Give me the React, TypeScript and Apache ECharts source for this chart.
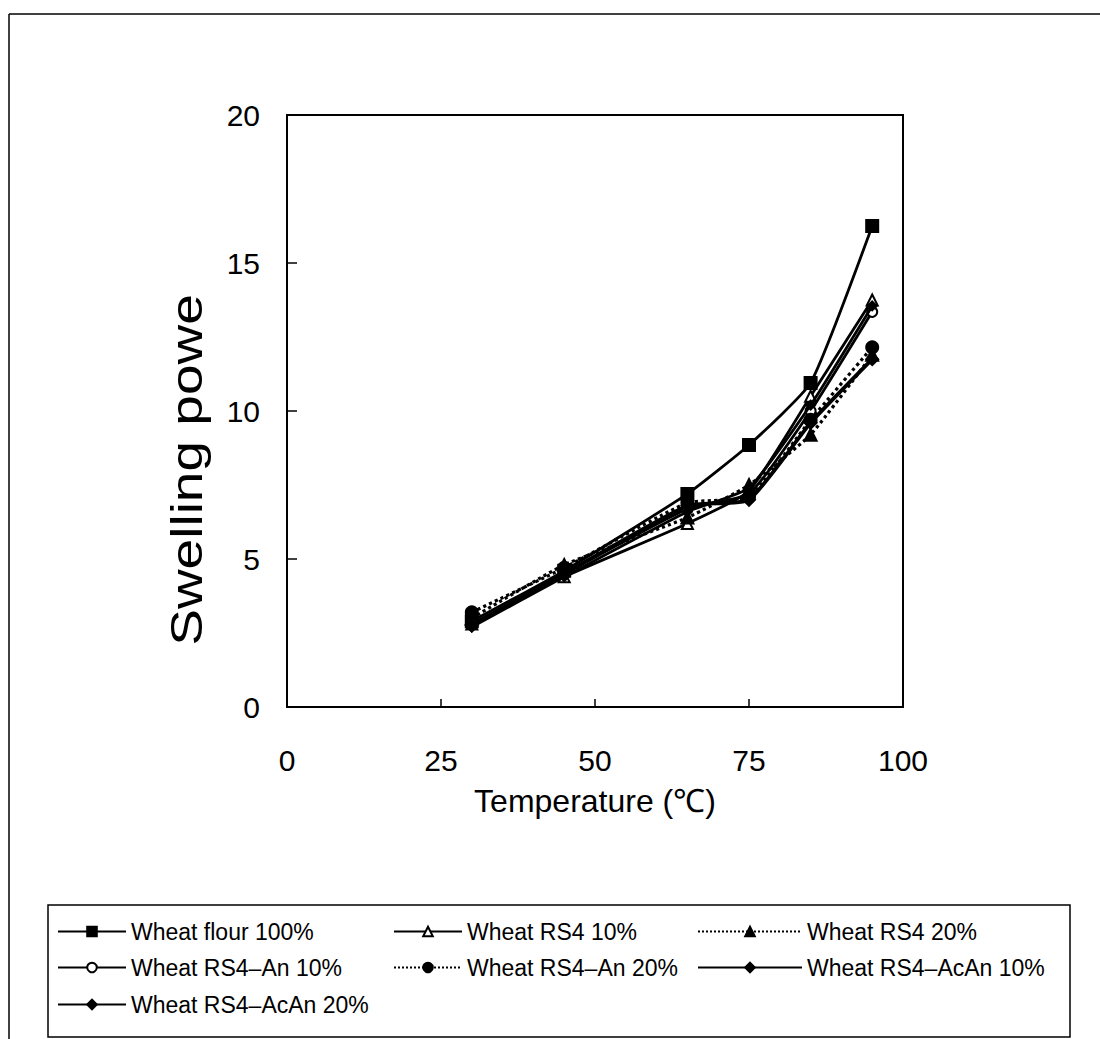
import React, { useEffect, useRef } from "react";
import * as echarts from "echarts";

const temperatures = [30, 45, 65, 75, 85, 95];
const seriesNames = [
  "Wheat flour 100%",
  "Wheat RS4 10%",
  "Wheat RS4 20%",
  "Wheat RS4\u2013An 10%",
  "Wheat RS4\u2013An 20%",
  "Wheat RS4\u2013AcAn 10%",
  "Wheat RS4\u2013AcAn 20%",
];
const wheatFlour100 = [2.9, 4.6, 7.2, 8.85, 10.95, 16.25];
const wheatRS4_10 = [2.8, 4.4, 6.2, 7.3, 10.5, 13.75];
const wheatRS4_20 = [3.0, 4.8, 6.4, 7.5, 9.2, 11.9];
const wheatRS4An_10 = [2.8, 4.5, 6.7, 7.2, 10.0, 13.35];
const wheatRS4An_20 = [3.2, 4.7, 6.9, 7.1, 9.7, 12.15];
const wheatRS4AcAn_10 = [2.7, 4.4, 6.6, 7.4, 10.2, 13.55];
const wheatRS4AcAn_20 = [2.75, 4.5, 6.8, 7.0, 9.6, 11.75];
const seriesValues = [
  wheatFlour100,
  wheatRS4_10,
  wheatRS4_20,
  wheatRS4An_10,
  wheatRS4An_20,
  wheatRS4AcAn_10,
  wheatRS4AcAn_20,
];
const xTicks = [0, 25, 50, 75, 100];
const yTicks = [0, 5, 10, 15, 20];
const xAxisTitle = "Temperature (\u2103)";
const yAxisTitle = "Swelling powe";

const FONT = "'Liberation Sans', Arial, Helvetica, sans-serif";

type Style = {
  symbol: string;
  size: number;
  filled: boolean;
  dotted: boolean;
  width: number;
};
const styles: Style[] = [
  { symbol: "rect", size: 12, filled: true, dotted: false, width: 2.8 },
  { symbol: "triangle", size: 11, filled: false, dotted: false, width: 2.8 },
  { symbol: "triangle", size: 12, filled: true, dotted: true, width: 3.2 },
  { symbol: "circle", size: 10, filled: false, dotted: false, width: 2.8 },
  { symbol: "circle", size: 12, filled: true, dotted: true, width: 3.2 },
  { symbol: "diamond", size: 9, filled: true, dotted: false, width: 2.8 },
  { symbol: "diamond", size: 12, filled: true, dotted: false, width: 3.8 },
];

// legend layout: [left, center y, icon width]
const legendSlots: [number, number, number][] = [
  [57, 932, 68],
  [393, 932, 68],
  [697, 932, 104],
  [57, 968, 68],
  [393, 968, 68],
  [697, 968, 104],
  [57, 1005, 68],
];

export default function App() {
  const ref = useRef<HTMLDivElement>(null);
  useEffect(() => {
    if (!ref.current) return;
    const chart = echarts.init(ref.current, undefined, { renderer: "svg" });
    const series = seriesNames.map((name, i) => {
      const s = styles[i];
      return {
        name,
        type: "line",
        data: temperatures.map((t, j) => [t, seriesValues[i][j]]),
        smooth: 0.15,
        symbol: s.symbol,
        symbolSize: s.size,
        showSymbol: true,
        lineStyle: {
          color: "#000",
          width: s.width,
          type: s.dotted ? "dotted" : "solid",
        },
        itemStyle: {
          color: s.filled ? "#000" : "#fff",
          borderColor: "#000",
          borderWidth: 2,
        },
        emphasis: { disabled: true },
        z: 3 + i,
      };
    });
    const legends = seriesNames.map((name, i) => ({
      data: [name],
      left: legendSlots[i][0],
      top: legendSlots[i][1] - 12,
      itemWidth: legendSlots[i][2],
      itemHeight: 12,
      padding: 0,
      selectedMode: false,
      textStyle: { fontSize: 23, color: "#000", fontFamily: FONT },
    }));
    chart.setOption({
      animation: false,
      backgroundColor: "#fff",
      grid: {
        left: 287,
        top: 115,
        width: 616,
        height: 592,
        show: true,
        borderColor: "#000",
        borderWidth: 2,
        backgroundColor: "transparent",
      },
      xAxis: {
        type: "value",
        min: xTicks[0],
        max: xTicks[xTicks.length - 1],
        interval: 25,
        name: xAxisTitle,
        nameLocation: "middle",
        nameGap: 78,
        nameTextStyle: { fontSize: 32, color: "#000", fontFamily: FONT },
        axisLine: { show: true, lineStyle: { color: "#000", width: 2 } },
        axisTick: { show: true, inside: true, length: 8, lineStyle: { color: "#000", width: 1.5 } },
        axisLabel: { fontSize: 30, color: "#000", margin: 38, fontFamily: FONT },
        splitLine: { show: false },
      },
      yAxis: {
        type: "value",
        min: yTicks[0],
        max: yTicks[yTicks.length - 1],
        interval: 5,
        axisLine: { show: true, lineStyle: { color: "#000", width: 2 } },
        axisTick: { show: true, inside: true, length: 10, lineStyle: { color: "#000", width: 1.5 } },
        axisLabel: { fontSize: 30, color: "#000", margin: 27, fontFamily: FONT },
        splitLine: { show: false },
      },
      legend: legends,
      series,
      graphic: [
        {
          type: "line",
          shape: { x1: 9, y1: 14, x2: 1100, y2: 14 },
          style: { stroke: "#000", lineWidth: 1.5 },
        },
        {
          type: "line",
          shape: { x1: 9, y1: 14, x2: 9, y2: 1039 },
          style: { stroke: "#000", lineWidth: 1.5 },
        },
        {
          type: "rect",
          shape: { x: 48, y: 905, width: 1022, height: 132 },
          style: { fill: "none", stroke: "#000", lineWidth: 1.5 },
          z: -1,
        },
        {
          type: "text",
          x: 187,
          y: 470,
          rotation: Math.PI / 2,
          scaleX: 1.25,
          style: {
            text: yAxisTitle,
            fontSize: 44,
            fontFamily: FONT,
            fill: "#000",
            align: "center",
            verticalAlign: "middle",
          },
        },
      ],
    });
    return () => chart.dispose();
  }, []);
  return (
    <div
      ref={ref}
      style={{ position: "fixed", left: 0, top: 0, width: 1100, height: 1039, background: "#fff" }}
    />
  );
}
